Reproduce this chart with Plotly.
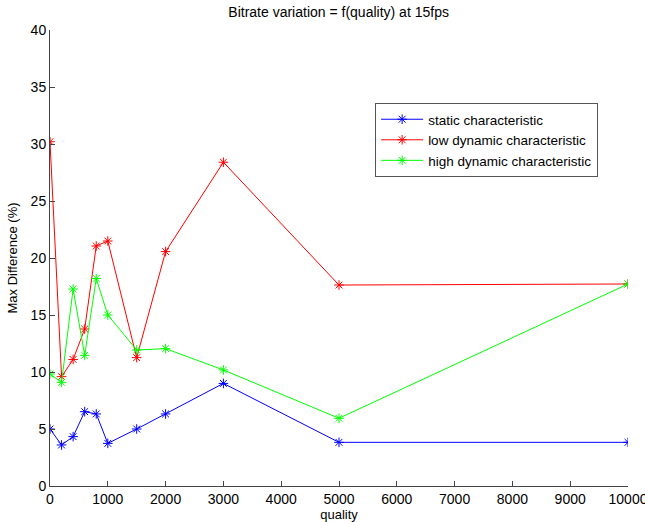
import plotly.graph_objects as go

quality = [0, 200, 400, 600, 800, 1000, 1500, 2000, 3000, 5000, 10000]
static_vals = [5.0, 3.6, 4.33, 6.52, 6.32, 3.74, 5.0, 6.32, 9.0, 3.83, 3.83]
low_dyn_vals = [30.2, 9.59, 11.1, 13.77, 21.05, 21.49, 11.26, 20.56, 28.4, 17.63, 17.72]
high_dyn_vals = [9.82, 9.09, 17.28, 11.46, 18.2, 15.0, 11.93, 12.05, 10.18, 5.94, 17.72]
series_names = ["static characteristic", "low dynamic characteristic", "high dynamic characteristic"]
colors = ["#0000ff", "#ff0000", "#00ff00"]
x_ticks = list(range(0, 10001, 1000))
y_ticks = list(range(0, 41, 5))

FONT = "Liberation Sans, Arial, sans-serif"

fig = go.Figure()
for name, vals, col in zip(series_names, [static_vals, low_dyn_vals, high_dyn_vals], colors):
    fig.add_trace(go.Scatter(
        x=quality, y=vals, name=name, mode="lines+markers",
        line=dict(color=col, width=1),
        marker=dict(symbol="asterisk-open", size=8, line=dict(color=col, width=1), color=col),
    ))

fig.update_layout(
    width=645, height=522,
    margin=dict(l=50, r=17, t=30, b=36),
    paper_bgcolor="white", plot_bgcolor="white",
    font=dict(family=FONT, size=14, color="black"),
    title=dict(text="Bitrate variation = f(quality) at 15fps", x=0.525, xanchor="center",
               y=1 - 12 / 522, yanchor="middle", font=dict(size=14)),
    showlegend=True,
    legend=dict(x=0.5625, y=0.84, xanchor="left", yanchor="top",
                bgcolor="white", bordercolor="#555555", borderwidth=1,
                font=dict(size=13.5), tracegroupgap=0, itemwidth=42),
    xaxis=dict(range=[0, 10000], tickvals=x_ticks, ticktext=[str(v) for v in x_ticks],
               automargin=False, ticklabeloverflow="allow",
               showgrid=False, zeroline=False, showline=True, linecolor="#444444", linewidth=1,
               ticks="inside", ticklen=5, tickcolor="#444444", tickfont=dict(size=14),
               title=dict(text="quality", standoff=2, font=dict(size=13))),
    yaxis=dict(range=[0, 40], tickvals=y_ticks, ticktext=[str(v) for v in y_ticks],
               automargin=False,
               showgrid=False, zeroline=False, showline=True, linecolor="#444444", linewidth=1,
               ticks="inside", ticklen=5, tickcolor="#444444", tickfont=dict(size=14),
               title=dict(text="Max Difference (%)", standoff=10, font=dict(size=13))),
)

fig.write_html("out.html")
